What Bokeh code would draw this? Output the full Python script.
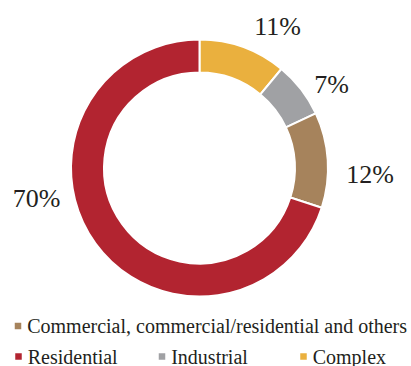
import math
from bokeh.plotting import figure
from bokeh.models import ColumnDataSource, Range1d
from bokeh.core.properties import value
from bokeh.embed import file_html
from bokeh.resources import INLINE

# ---- data ----
categories = ["Complex", "Industrial", "Commercial, commercial/residential and others", "Residential"]
shares = [11, 7, 12, 70]
colors = ["#EAB03E", "#A0A1A4", "#A6835C", "#B22430"]
pct_labels = ["11%", "7%", "12%", "70%"]

legend_rows = [
    ["Commercial, commercial/residential and others"],
    ["Residential", "Industrial", "Complex"],
]

# ---- layout (pixel space, y measured from top) ----
W, H = 411, 366
cx, cy = 199, 167.5
r_outer, r_inner = 128.5, 95.5
label_pos = [(277, 25.5), (331, 84), (369.5, 174), (36, 197.5)]
legend_row_y = [325.5, 356]
legend_x = [[17.5], [18, 161.5, 303]]
FONT = "Liberation Serif"

p = figure(width=W, height=H, output_backend="svg", toolbar_location=None,
           x_range=Range1d(0, W), y_range=Range1d(0, H), min_border=0)
p.axis.visible = False
p.grid.visible = False
p.outline_line_color = None
p.background_fill_color = "white"
p.border_fill_color = "white"

def Y(y):
    return H - y

total = float(sum(shares))
starts, ends = [], []
cum = 0.0
for s in shares:
    a0 = math.pi / 2 - 2 * math.pi * cum / total
    cum += s
    a1 = math.pi / 2 - 2 * math.pi * cum / total
    starts.append(a0)
    ends.append(a1)

src = ColumnDataSource(dict(x=[cx] * len(shares), y=[Y(cy)] * len(shares),
                            start=starts, end=ends, color=colors))
p.annular_wedge(x="x", y="y", inner_radius=r_inner, outer_radius=r_outer,
                start_angle="start", end_angle="end", direction="clock",
                fill_color="color", line_color="white", line_width=2, source=src)

lsrc = ColumnDataSource(dict(x=[q[0] for q in label_pos], y=[Y(q[1]) for q in label_pos],
                             t=pct_labels))
p.text(x="x", y="y", text="t", source=lsrc, text_font=value(FONT),
       text_font_size="26px", text_align="center", text_baseline="middle",
       text_color="#231F20")

color_of = dict(zip(categories, colors))
sq_x, sq_y, sq_c, tx, ty, tt = [], [], [], [], [], []
for row, ry, xs in zip(legend_rows, legend_row_y, legend_x):
    for name, lx in zip(row, xs):
        sq_x.append(lx)
        sq_y.append(Y(ry))
        sq_c.append(color_of[name])
        tx.append(lx + 9.2)
        ty.append(Y(ry))
        tt.append(name)

p.rect(x=sq_x, y=sq_y, width=6.5, height=6.5, fill_color=sq_c, line_color=None)
p.text(x=tx, y=ty, text=tt, text_font=value(FONT), text_font_size="20px",
       text_align="left", text_baseline="middle", text_color="#231F20")

open("out.html", "w").write(file_html(p, INLINE))
